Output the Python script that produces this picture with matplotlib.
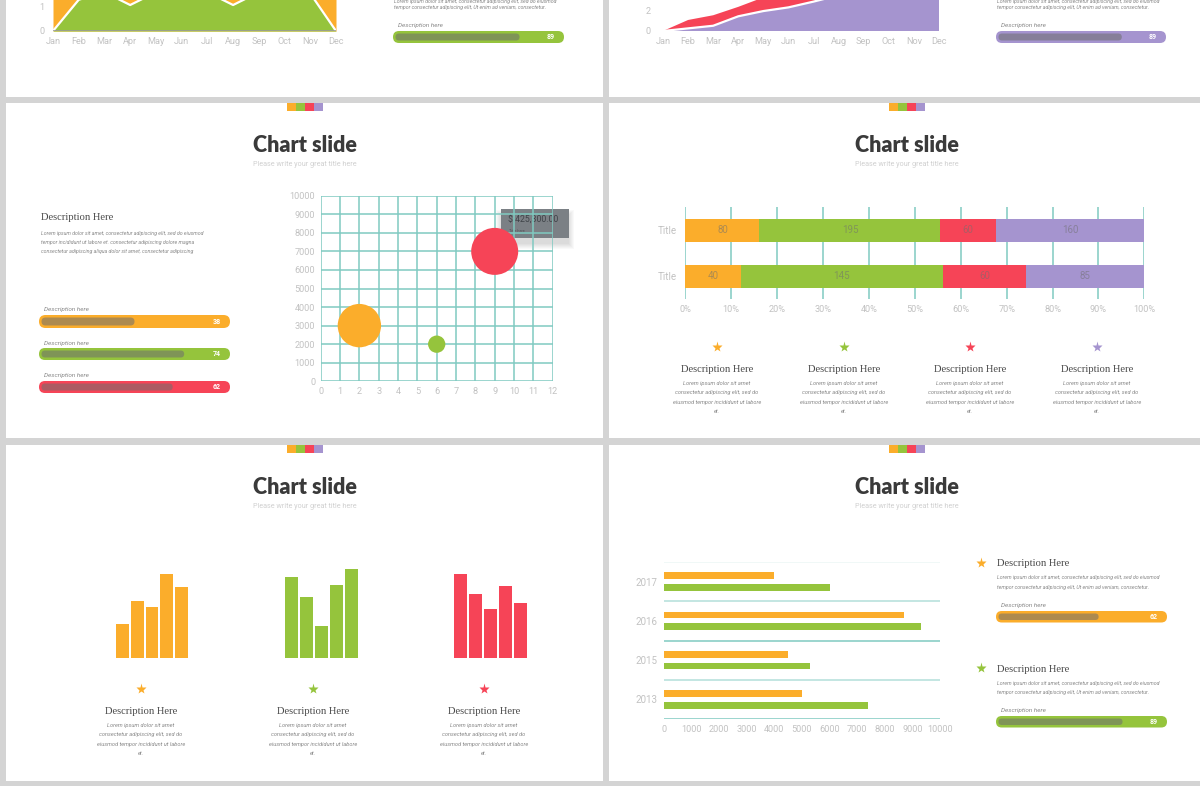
import numpy as np
import matplotlib.pyplot as plt
from matplotlib.patches import Rectangle, FancyBboxPatch, Polygon

# === Palette ===
ORANGE = '#fbad2b'
GREEN = '#95c43c'
RED = '#f64457'
PURPLE = '#a594cf'
TEAL = '#80cac1'
GUTTER = '#d4d4d4'
TICK = '#c2c2c2'
DARK = '#3a3a3a'

# === Data ===
months = ['Jan', 'Feb', 'Mar', 'Apr', 'May', 'Jun', 'Jul', 'Aug', 'Sep', 'Oct', 'Nov', 'Dec']
# top-left slide (only the lower part is visible)
area1_orange = [3.5, 3.2, 3.0, 2.6, 3.0, 3.4, 3.2, 2.6, 3.0, 3.4, 3.2, 3.6]
area1_green = [0, 1.25, 1.55, 1.04, 1.55, 1.8, 1.55, 1.04, 1.55, 1.8, 1.5, 0]
# top-right slide
area2_purple = [0, 0.25, 0.5, 1.4, 1.9, 2.25, 2.8, 3.4, 4.0, 4.6, 5.2, 5.8]
area2_red = [0, 0.8, 1.0, 0.9, 1.3, 1.4, 1.5, 1.6, 1.7, 1.8, 1.9, 2.0]

# bubble chart
bubble_x = [2, 6, 9]
bubble_y = [3000, 2000, 7000]
bubble_size = [975, 155, 1145]
bubble_colors = [ORANGE, GREEN, RED]
tooltip_text = '$ 425,300.00'

# stacked percent bars (top row first)
stack_rows = ['Title', 'Title']
stack_orange = [80, 40]
stack_green = [195, 145]
stack_red = [60, 60]
stack_purple = [160, 85]

# mini column charts
mini_orange = [34, 57, 51, 84, 71]
mini_green = [81, 61, 32, 73, 89]
mini_red = [84, 64, 49, 72, 55]

# grouped horizontal bars (top to bottom)
years = ['2017', '2016', '2015', '2013']
hbar_orange = [4000, 8700, 4500, 5000]
hbar_green = [6000, 9300, 5300, 7400]

# progress bars: label value and filled fraction
top_bar_values = [89, 89]
top_bar_fills = [0.74, 0.74]
mid_bar_values = [38, 74, 62]
mid_bar_fills = [0.50, 0.76, 0.70]
br_bar_values = [62, 89]
br_bar_fills = [0.60, 0.74]

lorem_wide = ['Lorem ipsum dolor sit amet, consectetur adipiscing elit, sed do eiusmod',
              'tempor consectetur adipiscing elit, Ut enim ad veniam, consectetur.']
lorem_left = ['Lorem ipsum dolor sit amet, consectetur adipiscing elit, sed do eiusmod',
              'tempor incididunt ut labore et. consectetur adipiscing dolore magna',
              'consectetur adipiscing aliqua dolor sit amet, consectetur adipiscing']
lorem_col = ['Lorem ipsum dolor sit amet', 'consectetur adipiscing elit, sed do',
             'eiusmod tempor incididunt ut labore', 'et.']

plt.rcParams['font.family'] = ['Roboto', 'DejaVu Sans']

# === Figure ===
W, H = 1200, 786
fig = plt.figure(figsize=(12, 7.86), dpi=100, facecolor=GUTTER)


def add_px_axes(x0, y0, x1, y1):
    ax = fig.add_axes([x0 / W, 1 - y1 / H, (x1 - x0) / W, (y1 - y0) / H])
    ax.set_facecolor('none')
    for s in ax.spines.values():
        s.set_visible(False)
    ax.tick_params(length=0, labelsize=6.6, labelcolor=TICK)
    return ax


bg = fig.add_axes([0, 0, 1, 1])
bg.set_xlim(0, W)
bg.set_ylim(H, 0)
bg.axis('off')

# white slides
for x0, y0, x1, y1 in [(6, -5, 603, 97), (609, -5, 1205, 97),
                       (6, 103, 603, 438), (609, 103, 1205, 438),
                       (6, 445, 603, 781), (609, 445, 1205, 781)]:
    bg.add_patch(Rectangle((x0, y0), x1 - x0, y1 - y0, fc='white', ec='none'))


def txt(x, y, s, size=3.8, color='#8a8a8a', **kw):
    bg.text(x, y, s, fontsize=size, color=color, va='center', **kw)


def progress(x0, y0, x1, y1, color, frac, value, label_y=None):
    h = y1 - y0
    bg.add_patch(FancyBboxPatch((x0, y0), x1 - x0, h,
                                boxstyle=f'round,pad=0,rounding_size={h / 2}',
                                fc=color, ec='none'))
    inset = 2.5
    ih = h - 2 * inset
    bg.add_patch(FancyBboxPatch((x0 + inset, y0 + inset), (x1 - x0) * frac - inset, ih,
                                boxstyle=f'round,pad=0,rounding_size={ih / 2}',
                                fc='#6e6e6e', alpha=0.55, ec='none'))
    bg.text(x1 - 9, (y0 + y1) / 2, str(value), color='white', fontsize=5,
            fontweight='bold', ha='right', va='center')
    if label_y is not None:
        txt(x0 + 5, label_y, 'Description here', size=4.6, color='#8a8a8a', style='italic')


def header(cx, sq_y, title_y):
    for i, c in enumerate([ORANGE, GREEN, RED, PURPLE]):
        bg.add_patch(Rectangle((cx - 18 + 9 * i, sq_y), 9, 7.5, fc=c, ec='none'))
    bg.text(cx, title_y - 1, 'Chart slide', fontsize=15.5, fontweight='heavy', family='Lato',
            color=DARK, ha='center', va='center')
    bg.text(cx, title_y + 18, 'Please write your great title here', fontsize=5.2,
            color='#d0d0d0', ha='center', va='center')


def column_text(cx, star_y, color):
    bg.plot(cx, star_y, marker='*', ms=8, color=color, mec='none')
    bg.text(cx, star_y + 22, 'Description Here', fontsize=7.6, family='Liberation Serif',
            color='#4a4a4a', ha='center', va='center')
    for i, line in enumerate(lorem_col):
        bg.text(cx, star_y + 36 + 9.6 * i, line, fontsize=4.1, color='#8a8a8a',
                style='italic', ha='center', va='center')


# === Top row (partially visible slides) ===
for x0, y_lines in [(394, [1, 8]), (997, [1, 8])]:
    for y, line in zip(y_lines, lorem_wide):
        txt(x0, y, line, style='italic')
progress(393, 31, 564, 43, GREEN, top_bar_fills[0], top_bar_values[0], label_y=25)
progress(996, 31, 1166, 43, PURPLE, top_bar_fills[1], top_bar_values[1], label_y=25)

ax = add_px_axes(53, -69, 336, 31)
x = np.arange(12)
ax.fill_between(x, area1_orange, color=ORANGE, lw=0)
ax.fill_between(x, area1_green, color=GREEN, lw=0)
ax.plot(x, area1_green, color='white', lw=1.6)
ax.axhline(0, color='#9a9a9a', lw=1.2)
ax.set_xlim(0, 11)
ax.set_ylim(0, 4)
ax.set_xticks(x, months)
ax.set_yticks([0, 1])
ax.tick_params(axis='x', pad=4)
ax.tick_params(axis='y', pad=6)

ax = add_px_axes(663, -74, 939, 31)
ax.stackplot(x, area2_purple, area2_red, colors=[PURPLE, RED], lw=0)
ax.plot(x, area2_purple, color='white', lw=1.6)
ax.set_xlim(0, 11)
ax.set_ylim(0, 10)
ax.set_xticks(x, months)
ax.set_yticks([0, 2])
ax.tick_params(axis='x', pad=4)
ax.tick_params(axis='y', pad=9)

# === Middle-left: bubble chart ===
header(305, 103, 146)
bg.text(41, 218, 'Description Here', fontsize=7.6, family='Liberation Serif',
        color='#4a4a4a', va='center')
for i, line in enumerate(lorem_left):
    txt(41, 233 + 9.5 * i, line, style='italic')
for (y0, y1, ly), c, f, v in zip([(315, 328, 310), (348, 360, 343), (381, 393, 376)],
                                 [ORANGE, GREEN, RED], mid_bar_fills, mid_bar_values):
    progress(39, y0, 230, y1, c, f, v, label_y=ly)

ax = add_px_axes(320.7, 195.7, 552.7, 381.3)
for v in range(13):
    ax.axvline(v, color=TEAL, lw=1.1, zorder=0)
for v in range(0, 10001, 1000):
    ax.axhline(v, color=TEAL, lw=1.1, zorder=0)
ax.scatter(bubble_x, bubble_y, s=bubble_size, c=bubble_colors, lw=0, zorder=3, clip_on=False)
ax.set_xlim(0, 12)
ax.set_ylim(0, 10000)
ax.set_xticks(range(13))
ax.set_yticks(range(0, 10001, 1000))
ax.tick_params(axis='x', pad=4)
ax.tick_params(axis='y', pad=4)

# tooltip
for k in range(6):
    bg.add_patch(Rectangle((501 - k, 212 - k + 3), 68 + 2 * k, 29 + 2 * k,
                           fc='black', alpha=0.025, ec='none'))
bg.add_patch(Rectangle((501, 209), 68, 29, fc='#7b8085', ec='none'))
bg.add_patch(Polygon([(504, 237), (513, 237), (507, 243)], fc='#7b8085', ec='none'))
bg.text(508, 220.5, tooltip_text, fontsize=6.3, color='#3f4449', va='center')
bg.text(509, 231, 'Title here', fontsize=2.8, color='#50555a', va='center')

# === Middle-right: stacked percent bars ===
header(907, 103, 146)
ax = add_px_axes(685.3, 207, 1144.4, 299)
for v in range(0, 101, 10):
    ax.axvline(v, color=TEAL, lw=1.1, zorder=0)
series = [stack_orange, stack_green, stack_red, stack_purple]
colors = [ORANGE, GREEN, RED, PURPLE]
totals = np.sum(series, axis=0)
ypos = [1, 0]
left = np.zeros(2)
for vals, c in zip(series, colors):
    pct = np.array(vals) / totals * 100
    ax.barh(ypos, pct, left=left, height=0.5, color=c, lw=0, zorder=2)
    for yy, l, p, v in zip(ypos, left, pct, vals):
        ax.text(l + p / 2, yy, str(v), fontsize=7, color='#6f6f6f', alpha=0.55,
                ha='center', va='center', zorder=3)
    left = left + pct
ax.set_xlim(0, 100)
ax.set_ylim(-0.49, 1.507)
ax.set_xticks(range(0, 101, 10), [f'{v}%' for v in range(0, 101, 10)])
ax.set_yticks(ypos, stack_rows)
ax.tick_params(axis='x', pad=4)
ax.tick_params(axis='y', pad=6, labelsize=7)
for cx, c in zip([717, 844, 970, 1097], colors):
    column_text(cx, 347, c)

# === Bottom-left: mini column charts ===
header(305, 445, 488)
for (x0, x1), vals, c in zip([(116, 188), (285, 358), (454, 527)],
                             [mini_orange, mini_green, mini_red], [ORANGE, GREEN, RED]):
    ax = add_px_axes(x0, 558, x1, 658)
    ax.bar(range(5), vals, width=0.88, color=c, lw=0)
    ax.set_xlim(-0.44, 4.44)
    ax.set_ylim(0, 100)
    ax.set_xticks([])
    ax.set_yticks([])
for cx, c in zip([141, 313, 484], [ORANGE, GREEN, RED]):
    column_text(cx, 689, c)

# === Bottom-right: grouped horizontal bars ===
header(907, 445, 488)
ax = add_px_axes(664, 562, 940, 719)
ycat = np.arange(len(years))[::-1]
for b, a in zip([-0.5, 0.5, 1.5, 2.5, 3.5], [1, 0.6, 1, 0.6, 0.15]):
    ax.axhline(b, color=TEAL, lw=1.1, alpha=a, zorder=0)
ax.barh(ycat + 0.15, hbar_orange, height=0.175, color=ORANGE, lw=0)
ax.barh(ycat - 0.15, hbar_green, height=0.175, color=GREEN, lw=0)
ax.set_xlim(0, 10000)
ax.set_ylim(-0.5, 3.5)
ax.set_xticks(range(0, 10001, 1000))
ax.set_yticks(ycat, years)
ax.tick_params(axis='x', pad=4)
ax.tick_params(axis='y', pad=5, labelsize=7)

for star_y, c, f, v in [(563, ORANGE, br_bar_fills[0], br_bar_values[0]),
                        (668, GREEN, br_bar_fills[1], br_bar_values[1])]:
    bg.plot(981, star_y, marker='*', ms=8, color=c, mec='none')
    bg.text(997, star_y + 1, 'Description Here', fontsize=7.6, family='Liberation Serif',
            color='#4a4a4a', va='center')
    for i, line in enumerate(lorem_wide):
        txt(997, star_y + 15 + 9.5 * i, line, style='italic')
    progress(996, star_y + 48, 1167, star_y + 59.5, c, f, v, label_y=star_y + 42.5)

fig.savefig('out.png', dpi=100, facecolor=fig.get_facecolor())
